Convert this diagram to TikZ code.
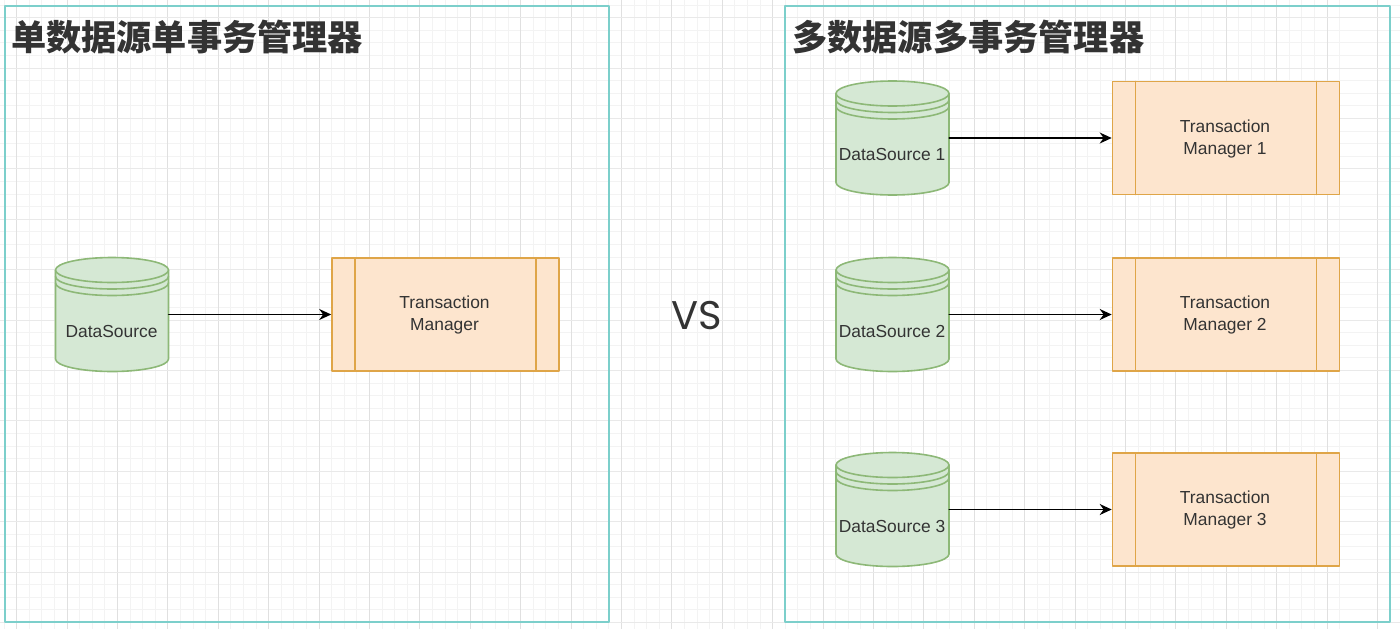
\documentclass[tikz,border=0pt]{standalone}
\usepackage{fontspec}
\setmainfont{Liberation Sans}
\newfontfamily\cjk{Noto Sans CJK SC}
\newfontfamily\vsfont{Poppins}
\usetikzlibrary{arrows.meta}

\definecolor{gridmajor}{HTML}{E0E0E0}
\definecolor{gridminor}{HTML}{F3F3F3}
\definecolor{framecol}{HTML}{7CCFCB}
\definecolor{dbfill}{HTML}{D5E8D4}
\definecolor{dbline}{HTML}{8DB877}
\definecolor{tmfill}{HTML}{FDE5CE}
\definecolor{tmline}{HTML}{DFA548}
\definecolor{inkcol}{HTML}{333333}

\tikzset{
    frameline/.style={draw=framecol, line width=1.4pt},
    titletext/.style={anchor=west, inner sep=0pt, text=inkcol, font=\cjk\bfseries\fontsize{35.2}{35.2}\selectfont},
    boxtext/.style={text=inkcol, font=\fontsize{17.4}{22}\selectfont, align=center},
    link/.style={draw=black, line width=1.5pt, -{Stealth[length=12pt, width=11pt]}},
    pics/dbcyl/.style={code={
        \node[minimum width=113pt, minimum height=113pt, inner sep=0pt] (-box) at (0,0) {};
        \draw[draw=dbline, fill=dbfill, line width=1.6pt] (-56.5,-44.5) -- (-56.5,44.5)
            arc[start angle=180, end angle=0, x radius=56.5, y radius=12.5] -- (56.5,-44.5);
        \draw[draw=dbline, fill=dbfill, line width=1.6pt] (0,-44.5) ellipse (56.5 and 12.5);
        \foreach \dy in {-38,-31.5}
            \draw[draw=dbline, line width=1.6pt] (-56.5,\dy)
                arc[start angle=180, end angle=0, x radius=56.5, y radius=12.5];
        \node[boxtext] (-text) at (-0.5,17) {#1};
    }},
    pics/tmbox/.style={code={
        \node[draw=tmline, fill=tmfill, line width=1.6pt, minimum width=227pt, minimum height=113pt,
              inner sep=0pt] (-box) at (0,0) {};
        \draw[draw=tmline, line width=1.6pt] (-90.5,-56.5) -- (-90.5,56.5);
        \draw[draw=tmline, line width=1.6pt] (90.5,-56.5) -- (90.5,56.5);
        \node[boxtext] (-text) at (-1,0.5) {#1};
    }},
}

\begin{document}
\begin{tikzpicture}[x=1pt, y=-1pt, line cap=round, line join=round]
    \useasboundingbox (0,0) rectangle (1400,629);
    \fill[white] (0,0) rectangle (1400,629);
    % background grid, fine lines first
    \foreach \k in {-5,...,106} {
        \draw[gridminor, line width=1pt] (4.0+\k*12.6,0) -- (4.0+\k*12.6,629);
    }
    \foreach \k in {-5,...,50} {
        \draw[gridminor, line width=1pt] (0,5.0+\k*12.6) -- (1400,5.0+\k*12.6);
    }
    \foreach \k in {-1,...,26} {
        \draw[gridmajor, line width=1pt] (67+\k*50.4,0) -- (67+\k*50.4,629);
    }
    \foreach \k in {-1,...,11} {
        \draw[gridmajor!70, line width=1pt] (0,68+\k*50.4) -- (1400,68+\k*50.4);
    }

    % the two frames
    \draw[frameline] (5,6) rectangle (609,622);
    \draw[frameline] (785,6) rectangle (1390,622);
    \node[titletext] (lefttitle) at (11,37) {单数据源单事务管理器};
    \node[titletext] (righttitle) at (792,37) {多数据源多事务管理器};
    \node[inner sep=0pt, text=inkcol, font=\vsfont\fontsize{40}{40}\selectfont] (versus) at (697,315.5) {VS};

    % left side
    \pic (ds) at (112,314.5) {dbcyl={DataSource}};
    \pic (tm) at (445.5,314.5) {tmbox={Transaction\\Manager}};
    \draw[link] (ds-box) -- (tm-box);

    % right side
    \foreach \i/\py in {1/138, 2/314.5, 3/509.5} {
        \pic (ds\i) at (892.5,\py) {dbcyl={DataSource \i}};
        \pic (tm\i) at (1226,\py) {tmbox={Transaction\\Manager \i}};
        \draw[link] (ds\i-box) -- (tm\i-box);
    }
\end{tikzpicture}
\end{document}
